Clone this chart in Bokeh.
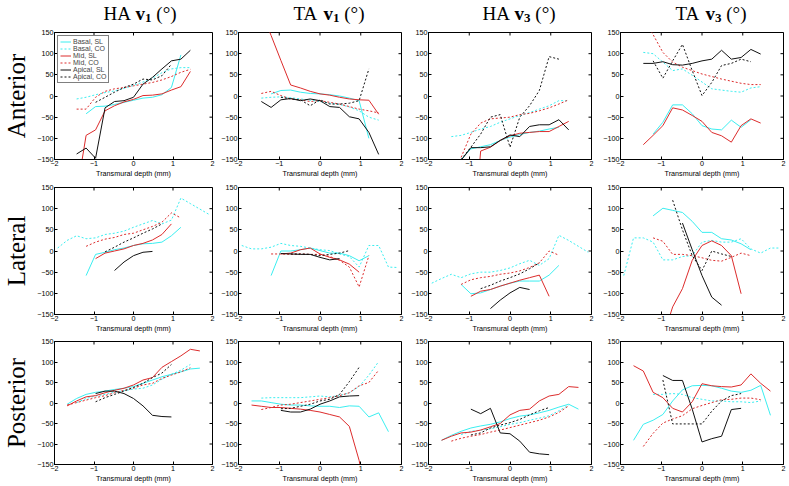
import numpy as np
from bokeh.plotting import figure
from bokeh.layouts import column, row
from bokeh.models import Range1d, FixedTicker, Legend, LegendItem
from bokeh.core.properties import value
from bokeh.embed import file_html
from bokeh.resources import INLINE

N = None
DEPTH_MM = [-1.92, -1.68, -1.44, -1.2, -0.96, -0.72, -0.48, -0.24, 0.0,
            0.24, 0.48, 0.72, 0.96, 1.2, 1.44, 1.68, 1.92]
SERIES = ["Basal, SL", "Basal, CO", "Mid, SL", "Mid, CO", "Apical, SL", "Apical, CO"]
REGIONS = ["Anterior", "Lateral", "Posterior"]
QUANTITIES = [("HA", "1"), ("TA", "1"), ("HA", "3"), ("TA", "3")]
X_TICKS = [-2, -1, 0, 1, 2]
Y_TICKS = [-150, -100, -50, 0, 50, 100, 150]
X_LIM = (-2, 2)
Y_LIM = (-150, 150)
X_LABEL = "Transmural depth (mm)"

# ---------------- Anterior ----------------
ANT_HA1 = {
    "Basal, SL":  [N, N, N, -42, -25, -24, -20, -15, -10, -5, -3, 3, 20, 97, N, N, N],
    "Basal, CO":  [N, N, -7, -3, 3, 8, 12, 18, 25, 33, 42, 55, 64, 67, 67, N, N],
    "Mid, SL":    [N, N, -230, -93, -80, -35, -23, -14, -8, 1, 2, 5, 14, 22, 58, N, N],
    "Mid, CO":    [N, N, -31, -31, -3, 11, 17, 20, 24, 28, 32, 38, 46, 56, 63, N, N],
    "Apical, SL": [N, N, -137, -123, -147, -28, -13, -11, -3, 28, 44, 64, 83, 87, 108, N, N],
    "Apical, CO": [N, N, N, N, -15, -3, 9, 20, 28, 40, 38, 48, 75, N, N, N, N],
}
ANT_TA1 = {
    "Basal, SL":  [N, N, N, 5, 13, 14, 9, 6, 5, 3, 0, -5, -11, -100, N, N, N],
    "Basal, CO":  [N, N, -5, -3, -2, -4, -7, -10, -13, -17, -20, -26, -35, -50, -57, N, N],
    "Mid, SL":    [N, N, 200, 143, 84, 26, 19, 11, 5, 2, -3, -7, -9, -10, -43, N, N],
    "Mid, CO":    [N, N, 6, 11, 1, -7, -9, -13, -11, -15, -19, -25, -31, -35, -40, N, N],
    "Apical, SL": [N, N, -13, -27, -9, -6, -11, -7, -11, -25, -27, -49, -54, -86, -138, N, N],
    "Apical, CO": [N, N, N, N, -3, -7, -9, -23, -9, -19, -19, -17, -11, 64, N, N, N],
}
ANT_HA3 = {
    "Basal, SL":  [N, N, N, -150, -125, -120, -115, -105, -97, -91, -86, -83, -78, -74, N, N, N],
    "Basal, CO":  [N, N, -96, -93, -86, -78, -72, -62, -54, -46, -39, -31, -23, -11, -11, N, N],
    "Mid, SL":    [N, N, N, N, -400, -130, -121, -105, -94, -88, -86, -84, -84, -72, -60, N, N],
    "Mid, CO":    [N, N, N, -145, -90, -64, -54, -52, -50, -44, -41, -35, -28, -19, -9, N, N],
    "Apical, SL": [N, N, N, -152, -122, -122, -120, -105, -92, -96, -72, -68, -68, -56, -80, N, N],
    "Apical, CO": [N, N, N, -150, -121, -90, -50, -44, -121, -50, -23, 13, 93, 87, N, N, N],
}
ANT_TA3 = {
    "Basal, SL":  [N, N, N, -90, -62, -21, -21, -42, -70, -78, -80, -57, -74, -56, N, N, N],
    "Basal, CO":  [N, N, 103, 100, 80, 60, 64, 49, 33, 17, 14, 11, 9, 19, 22, N, N],
    "Mid, SL":    [N, N, -115, -93, -70, -28, -33, -46, -60, -86, -94, -109, -70, -54, -64, N, N],
    "Mid, CO":    [N, N, 185, 145, 103, 80, 68, 60, 52, 46, 40, 35, 30, 27, 27, N, N],
    "Apical, SL": [N, N, 77, 77, 81, 74, 73, 77, 83, 87, 108, 87, 91, 110, 99, N, N],
    "Apical, CO": [N, N, N, 83, 42, 83, 122, 60, 1, 32, 72, 77, 87, 81, N, N, N],
}
# ---------------- Lateral ----------------
LAT_HA1 = {
    "Basal, SL":  [N, N, N, -58, -8, -3, 3, 7, 13, 17, 18, 21, 36, 56, N, N, N],
    "Basal, CO":  [7, 25, 36, 29, 31, 39, 42, 47, 56, 64, 72, 64, 73, 125, 112, 99, 86],
    "Mid, SL":    [N, N, N, N, -18, -5, 0, 5, 13, 18, 26, 39, 64, N, N, N, N],
    "Mid, CO":    [N, N, N, 11, 21, 28, 32, 39, 42, 50, 58, 68, 90, 78, N, N, N],
    "Apical, SL": [N, N, N, N, N, N, -46, -26, -11, -3, -1, N, N, N, N, N, N],
    "Apical, CO": [N, N, N, N, N, -2, 9, 21, 31, 42, 52, 64, N, N, N, N, N],
}
LAT_TA1 = {
    "Basal, SL":  [N, N, N, -58, 0, 0, 3, 7, 1, -5, -5, -11, -23, -11, N, N, N],
    "Basal, CO":  [13, 5, 5, 9, 18, 13, 11, 7, 3, 1, -7, -13, -38, 13, 13, -38, -39],
    "Mid, SL":    [N, N, N, N, -7, -5, 3, 7, -7, -15, -21, -31, -50, N, N, N, N],
    "Mid, CO":    [N, N, N, -7, -7, -8, -7, -8, -8, -13, -22, -38, -85, -11, N, N, N],
    "Apical, SL": [N, N, N, N, -6, -7, -8, -8, -15, -21, -18, N, N, N, N, N, N],
    "Apical, CO": [N, N, N, N, N, -7, -7, -8, -11, -8, -5, 1, N, N, N, N, N],
}
LAT_HA3 = {
    "Basal, SL":  [N, N, N, -79, -101, -99, -91, -83, -76, -71, -71, -71, -57, -34, N, N, N],
    "Basal, CO":  [-76, -65, -55, -63, -54, -50, -50, -46, -40, -30, -22, -34, -18, 37, 25, 11, -3],
    "Mid, SL":    [N, N, N, N, -107, -95, -91, -83, -76, -69, -63, -57, -107, N, N, N, N],
    "Mid, CO":    [N, N, N, -79, -68, -63, -60, -55, -52, -47, -39, -28, 0, -10, N, N, N],
    "Apical, SL": [N, N, N, N, N, N, -136, -116, -99, -86, -91, N, N, N, N, N, N],
    "Apical, CO": [N, N, N, N, N, -89, -81, -71, -63, -54, -42, -28, N, N, N, N, N],
}
LAT_TA3 = {
    "Basal, SL":  [N, N, N, 83, 101, 96, 91, 70, 44, 44, 29, 26, 17, 3, N, N, N],
    "Basal, CO":  [-58, 31, 31, 21, -21, -21, -13, -11, 21, 25, 21, 21, 29, 5, -5, 7, 7],
    "Mid, SL":    [N, N, N, N, -205, -132, -89, -22, 13, 24, 13, -11, -101, N, N, N, N],
    "Mid, CO":    [N, N, N, 31, 23, -8, -8, -11, -16, -22, -24, -15, -5, -11, N, N, N],
    "Apical, SL": [N, N, N, N, N, N, 66, 3, -58, -109, -128, N, N, N, N, N, N],
    "Apical, CO": [N, N, N, N, N, 120, 50, -11, -46, 0, -7, -13, N, N, N, N, N],
}
# ---------------- Posterior ----------------
POS_HA1 = {
    "Basal, SL":  [N, -3, 11, 21, 26, 29, 33, 36, 40, 48, 56, 64, 70, 76, 83, 85, N],
    "Basal, CO":  [N, N, 1, 11, 17, 21, 26, 30, 34, 36, 44, 58, 70, 80, 94, N, N],
    "Mid, SL":    [N, -7, 5, 15, 18, 25, 31, 36, 44, 56, 62, 87, 101, 115, 131, 127, N],
    "Mid, CO":    [N, -5, 1, 7, 13, 18, 25, 31, 36, 44, 48, 60, 68, 76, 86, N, N],
    "Apical, SL": [N, N, N, N, 23, 29, 29, 23, 11, -7, -30, -33, -34, N, N, N, N],
    "Apical, CO": [N, N, N, N, 3, 13, 21, 29, 38, 48, 62, 73, 94, N, N, N, N],
}
POS_TA1 = {
    "Basal, SL":  [N, 5, 5, 1, -3, -5, -5, -7, -8, -8, -11, -7, -8, -34, -24, -70, N],
    "Basal, CO":  [N, N, 12, 13, 13, 13, 13, 15, 17, 15, 18, 25, 40, 68, 101, N, N],
    "Mid, SL":    [N, -5, -8, -11, -11, -13, -15, -18, -22, -28, -34, -57, -140, -260, N, N, N],
    "Mid, CO":    [N, N, -16, -11, -5, -3, 1, 5, 9, 13, 18, 25, 42, 50, 80, N, N],
    "Apical, SL": [N, N, N, N, -18, -22, -22, -15, -3, 5, 15, 17, 18, N, N, N, N],
    "Apical, CO": [N, N, N, N, -14, -13, -8, -3, 5, 9, 21, 52, 87, N, N, N, N],
}
POS_HA3 = {
    "Basal, SL":  [N, -91, -79, -69, -61, -56, -52, -46, -38, -32, -29, -24, -18, -10, -3, -15, N],
    "Basal, CO":  [N, N, N, -77, -69, -66, -63, -58, -52, -48, -42, -37, -31, -19, -5, N, N],
    "Mid, SL":    [N, -91, -81, -73, -71, -66, -58, -50, -29, -18, -15, 5, 17, 21, 40, 38, N],
    "Mid, CO":    [N, N, -93, -86, -81, -77, -71, -66, -60, -54, -48, -42, -34, -23, -7, N, N],
    "Apical, SL": [N, N, N, N, -15, -26, -13, -73, -75, -93, -120, -124, -126, N, N, N, N],
    "Apical, CO": [N, N, N, N, -78, -73, -61, -54, -48, -40, -29, -19, -11, N, N, N, N],
}
POS_TA3 = {
    "Basal, SL":  [N, -91, -52, -42, -28, 5, 32, 42, 43, 42, 36, 29, 26, 31, 43, -30, N],
    "Basal, CO":  [N, N, N, 21, 21, 23, 21, 13, 9, 5, 5, 3, 3, 1, 5, N, N],
    "Mid, SL":    [N, 91, 78, 26, 13, -13, -22, 3, 47, 42, 40, 39, 44, 71, 48, 29, N],
    "Mid, CO":    [N, N, -106, -74, -49, -39, -31, -14, -6, 1, 8, 9, 12, 12, 8, N, N],
    "Apical, SL": [N, N, N, N, 67, 55, 55, -15, -95, -87, -81, -16, -13, N, N, N, N],
    "Apical, CO": [N, N, N, N, 56, -51, -51, -51, -51, -20, 5, 18, 23, N, N, N, N],
}

PANELS = [
    [ANT_HA1, ANT_TA1, ANT_HA3, ANT_TA3],
    [LAT_HA1, LAT_TA1, LAT_HA3, LAT_TA3],
    [POS_HA1, POS_TA1, POS_HA3, POS_TA3],
]

# ---------------- layout & style ----------------
TITLE_H = 27            # row holding the column titles
FRAME_W, FRAME_H = 163, 127
LEFT = [49, 23, 24, 26]
RIGHT = [3, 3, 3, 4]
TOP = [5, 4, 4]
BOTTOM = [24, 23, 17]

CYAN = "#3aeef0"
RED = "#dc2c2c"
BLACK = "#111111"
DOT = "2 2"
STYLE = {
    "Basal, SL": (CYAN, "solid"),
    "Basal, CO": (CYAN, DOT),
    "Mid, SL": (RED, "solid"),
    "Mid, CO": (RED, DOT),
    "Apical, SL": (BLACK, "solid"),
    "Apical, CO": (BLACK, DOT),
}
SANS = "Liberation Sans"
SERIF = "Liberation Serif"
TICK_FS = "7.2px"

EM = {"H": 0.722, "A": 0.722, "T": 0.611, " ": 0.25, "(": 0.333, "°": 0.4, ")": 0.333}
BOLD_EM = {"v": 0.5, "1": 0.5, "3": 0.5}
TITLE_FS = 19.0
SUB_FS = 13.0


def text_w(s, table, fs):
    return sum(table[ch] for ch in s) * fs


def col_width(c):
    return LEFT[c] + FRAME_W + RIGHT[c]


def row_height(r):
    return TOP[r] + FRAME_H + BOTTOM[r]


def blank_fig(w, h):
    f = figure(width=w, height=h, x_range=Range1d(0, w), y_range=Range1d(0, h),
               output_backend="svg", toolbar_location=None, title=None,
               x_axis_location=None, y_axis_location=None,
               min_border=0, min_border_left=0, min_border_right=0,
               min_border_top=0, min_border_bottom=0)
    f.grid.visible = False
    f.outline_line_color = None
    f.background_fill_color = "white"
    f.border_fill_color = "white"
    return f


def style_axis(ax, ticks):
    ax.ticker = FixedTicker(ticks=ticks)
    ax.major_tick_in = 3
    ax.major_tick_out = 0
    ax.minor_tick_in = 0
    ax.minor_tick_out = 0
    ax.axis_line_color = "black"
    ax.major_tick_line_color = "black"
    ax.major_label_text_font = SANS
    ax.major_label_text_color = "black"
    ax.major_label_text_font_size = TICK_FS
    ax.major_label_standoff = 1


def title_fig(c):
    q, sub = QUANTITIES[c]
    w, h = col_width(c), TITLE_H
    f = blank_fig(w, h)
    w_q = text_w(q, EM, TITLE_FS)
    w_sp = EM[" "] * TITLE_FS
    w_v = BOLD_EM["v"] * TITLE_FS
    w_sub = BOLD_EM[sub] * SUB_FS
    w_par = text_w("(°)", EM, TITLE_FS)
    total = w_q + w_sp + w_v + w_sub + w_sp + w_par
    x0 = LEFT[c] + FRAME_W / 2 + 9 - total / 2
    base = TITLE_H - 13
    pieces = [
        (x0, base, q, TITLE_FS, "normal"),
        (x0 + w_q + w_sp, base, "v", TITLE_FS, "bold"),
        (x0 + w_q + w_sp + w_v, base - 4.6, sub, SUB_FS, "bold"),
        (x0 + w_q + w_sp + w_v + w_sub + w_sp, base, "(°)", TITLE_FS, "normal"),
    ]
    for x, y, t, fs, st in pieces:
        f.text(x=[x], y=[y], text=[t], text_font=value(SERIF),
               text_font_size=value(f"{fs}px"), text_font_style=st,
               text_align="left", text_baseline="alphabetic", text_color="black")
    return f


def make_panel(r, c):
    data = PANELS[r][c]
    p = figure(width=col_width(c), height=row_height(r),
               x_range=Range1d(*X_LIM), y_range=Range1d(*Y_LIM),
               output_backend="svg", toolbar_location=None, title=None,
               min_border_left=LEFT[c], min_border_right=RIGHT[c],
               min_border_top=TOP[r], min_border_bottom=BOTTOM[r])
    p.xgrid.visible = False
    p.ygrid.visible = False
    p.outline_line_color = "black"
    p.outline_line_width = 1
    p.background_fill_color = "white"
    p.border_fill_color = "white"

    style_axis(p.xaxis[0], X_TICKS)
    style_axis(p.yaxis[0], Y_TICKS)
    xa = p.xaxis[0]
    xa.axis_label = X_LABEL
    xa.axis_label_text_font = SANS
    xa.axis_label_text_font_size = TICK_FS
    xa.axis_label_text_font_style = "normal"
    xa.axis_label_standoff = 0
    xa.axis_label_text_color = "black"

    if c == 0:
        ya = p.yaxis[0]
        ya.axis_label = REGIONS[r]
        ya.axis_label_text_font = SERIF
        ya.axis_label_text_font_size = "25px"
        ya.axis_label_text_font_style = "normal"
        ya.axis_label_text_color = "black"
        ya.axis_label_standoff = 4

    # inward ticks on the top and right edges of the box
    p.ray(x=X_TICKS, y=[Y_LIM[1]] * len(X_TICKS), length=3, length_units="screen",
          angle=-np.pi / 2, line_color="black", line_width=1)
    p.ray(x=[X_LIM[1]] * len(Y_TICKS), y=Y_TICKS, length=3, length_units="screen",
          angle=np.pi, line_color="black", line_width=1)

    renderers = []
    for name in SERIES:
        col, dash = STYLE[name]
        y = np.array(data[name], dtype=float)
        rr = p.line(DEPTH_MM, y, line_color=col, line_dash=dash, line_width=1.0)
        renderers.append((name, rr))

    if r == 0 and c == 0:
        legend = Legend(items=[LegendItem(label=n, renderers=[rr]) for n, rr in renderers],
                        location="top_left")
        legend.label_text_font = SANS
        legend.label_text_font_size = "7px"
        legend.label_height = 7
        legend.glyph_height = 7
        legend.glyph_width = 11
        legend.label_standoff = 2
        legend.spacing = 0
        legend.padding = 2
        legend.margin = 3
        legend.border_line_color = "black"
        legend.border_line_width = 0.7
        legend.background_fill_color = "white"
        legend.background_fill_alpha = 1.0
        p.add_layout(legend)
    return p


title_row = row(*[title_fig(c) for c in range(4)], spacing=0)
panel_rows = [row(*[make_panel(r, c) for c in range(4)], spacing=0) for r in range(3)]
layout = column(title_row, *panel_rows, spacing=0)

open("out.html", "w").write(file_html(layout, INLINE))
